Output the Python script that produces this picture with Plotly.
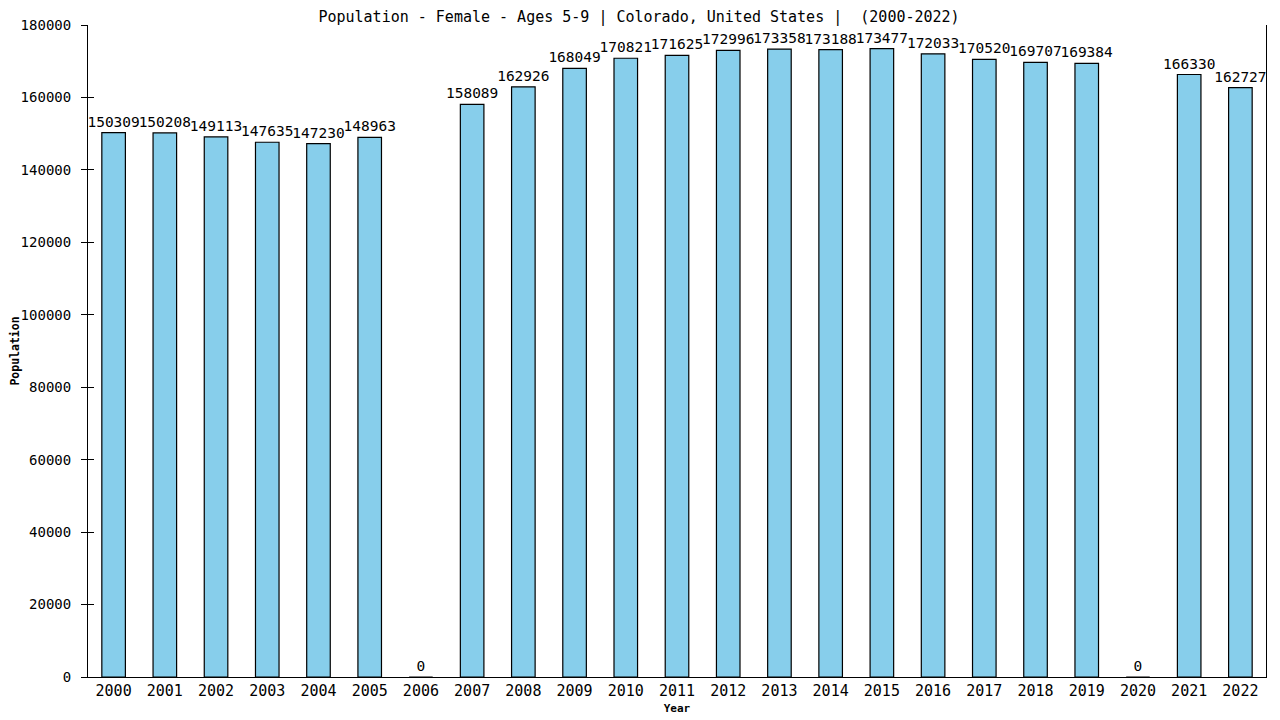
import plotly.graph_objects as go

years = [str(y) for y in range(2000, 2023)]
values = [150309, 150208, 149113, 147635, 147230, 148963, 0, 158089, 162926, 168049,
          170821, 171625, 172996, 173358, 173188, 173477, 172033, 170520, 169707, 169384,
          0, 166330, 162727]
y_ticks = [0, 20000, 40000, 60000, 80000, 100000, 120000, 140000, 160000, 180000]

font = "DejaVu Sans Mono"

fig = go.Figure()
fig.add_trace(go.Bar(
    x=years, y=values,
    text=[str(v) for v in values],
    textposition="outside",
    textfont=dict(family=font, size=14.5, color="black"),
    constraintext="none",
    cliponaxis=False,
    marker=dict(color="#87CEEB", line=dict(color="black", width=1.2)),
    width=0.46,
    hoverinfo="x+y",
))
# invisible helper trace so the overlay axis (inner tick marks) is drawn
fig.add_trace(go.Scatter(x=[years[0]], y=[0], yaxis="y2", mode="markers",
                         marker=dict(opacity=0), hoverinfo="skip", showlegend=False))

fig.update_layout(
    width=1280, height=720,
    margin=dict(l=80, r=22, t=17, b=51),
    paper_bgcolor="white", plot_bgcolor="white",
    showlegend=False,
    title=dict(text="Population - Female - Ages 5-9 | Colorado, United States |  (2000-2022)",
               x=0.493, xanchor="center", y=0.988, yanchor="middle",
               font=dict(family=font, size=15, color="black")),
    font=dict(family=font, color="black"),
    yaxis2=dict(overlaying="y", side="left", range=[0, 180000], tickvals=y_ticks,
                ticks="inside", ticklen=6, tickcolor="black", tickwidth=1,
                showticklabels=False,
                showline=False, showgrid=False, zeroline=False, automargin=False),
)
fig.update_xaxes(
    type="category", range=[-0.5, len(years) - 0.5],
    showline=True, linecolor="black", linewidth=1, automargin=False,
    ticks="", tickfont=dict(family=font, size=15, color="black"),
    title=dict(text="<b>Year</b>", font=dict(family=font, size=11, color="black"), standoff=5),
    showgrid=False,
)
fig.update_layout(yaxis=dict(
    range=[0, 180000], tickvals=y_ticks, ticktext=[str(t) for t in y_ticks],
    showline=True, linecolor="black", linewidth=1, mirror=True, automargin=False,
    ticks="outside", ticklen=6, tickcolor="black", ticklabelstandoff=7,
    tickfont=dict(family=font, size=14, color="black"),
    title=dict(text="<b>Population</b>", font=dict(family=font, size=11.5, color="black"), standoff=6),
    showgrid=False, zeroline=False,
))

fig.write_html("out.html")
